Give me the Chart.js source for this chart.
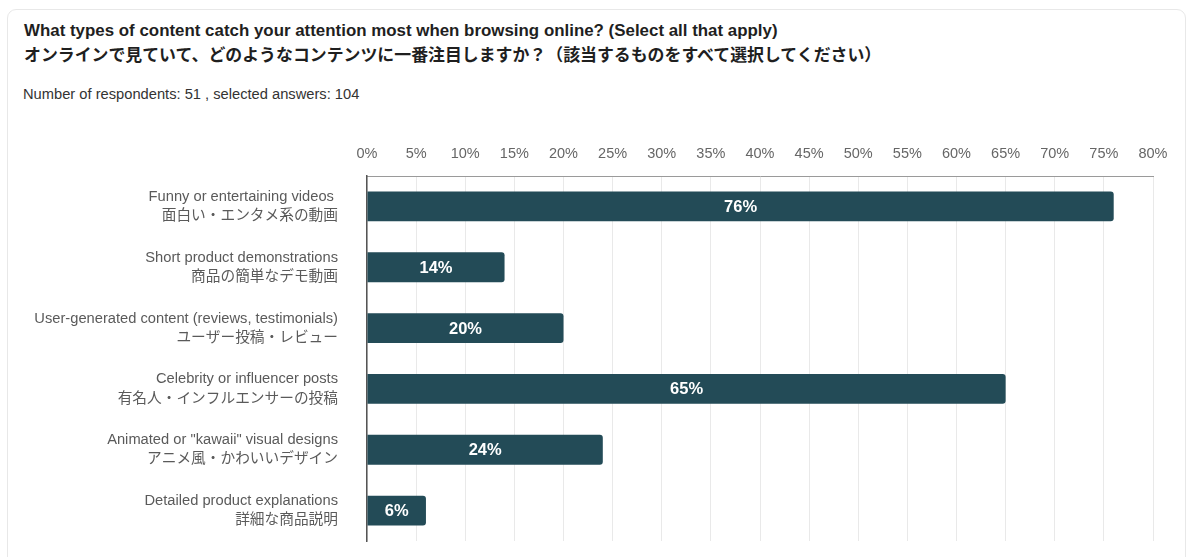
<!DOCTYPE html>
<html>
<head>
<meta charset="utf-8">
<script src="https://cdn.jsdelivr.net/npm/chart.js@4"></script>
<style>
  html, body { margin: 0; padding: 0; background: #fff; }
  body { width: 1188px; height: 557px; position: relative; overflow: hidden;
         font-family: 'Liberation Sans', Arial, 'Noto Sans CJK JP', sans-serif; }
  .card { position: absolute; left: 7px; top: 9px; width: 1179px; height: 600px;
          border: 1px solid #e8e8e8; border-radius: 9px; box-sizing: border-box; }
  .title { position: absolute; left: 24px; top: 18px; font-size: 16.9px; font-weight: bold;
           color: #1f1f1f; line-height: 25px; white-space: nowrap; }
  .sub { position: absolute; left: 23px; top: 86px; font-size: 14.7px; color: #333; white-space: nowrap; }
  #wrap { position: absolute; left: 0; top: 120px; width: 1188px; height: 437px; }
</style>
</head>
<body>
<div class="card"></div>
<div class="title">What types of content catch your attention most when browsing online? (Select all that apply)<br>オンラインで見ていて、どのようなコンテンツに一番注目しますか？（該当するものをすべて選択してください）</div>
<div class="sub">Number of respondents: 51 , selected answers: 104</div>
<div id="wrap"><canvas id="c"></canvas></div>
<script>
// Answer options (English / Japanese) and share of respondents, in percent
const labelsEn = [
  'Funny or entertaining videos ',
  'Short product demonstrations',
  'User-generated content (reviews, testimonials)',
  'Celebrity or influencer posts',
  'Animated or "kawaii" visual designs',
  'Detailed product explanations'
];
const labelsJa = [
  '面白い・エンタメ系の動画',
  '商品の簡単なデモ動画',
  'ユーザー投稿・レビュー',
  '有名人・インフルエンサーの投稿',
  'アニメ風・かわいいデザイン',
  '詳細な商品説明'
];
const shares = [76, 14, 20, 65, 24, 6];
const axisMax = 80;
const axisStep = 5;

const FONT = "'Liberation Sans', Arial, 'Noto Sans CJK JP', sans-serif";

// Writes the percentage in the middle of each bar
const barValueLabels = {
  id: 'barValueLabels',
  afterDatasetsDraw(chart) {
    const ctx = chart.ctx;
    const meta = chart.getDatasetMeta(0);
    const values = chart.data.datasets[0].data;
    ctx.save();
    ctx.fillStyle = '#ffffff';
    ctx.font = 'bold 16.5px ' + FONT;
    ctx.textAlign = 'center';
    ctx.textBaseline = 'middle';
    meta.data.forEach((bar, i) => {
      const cx = (bar.x + bar.base) / 2;
      ctx.fillText(values[i] + '%', cx, bar.y + 1);
    });
    ctx.restore();
  }
};

new Chart(document.getElementById('c'), {
  type: 'bar',
  data: {
    labels: labelsEn.map((en, i) => [en, labelsJa[i]]),
    datasets: [{
      data: shares,
      backgroundColor: '#234b57',
      borderRadius: { topRight: 3, bottomRight: 3, topLeft: 0, bottomLeft: 0 },
      borderSkipped: 'start',
      categoryPercentage: 1,
      barPercentage: 0.49
    }]
  },
  options: {
    indexAxis: 'y',
    responsive: true,
    maintainAspectRatio: false,
    animation: false,
    layout: { padding: { left: 0, right: 35, top: 0, bottom: 16 } },
    plugins: { legend: { display: false }, tooltip: { enabled: false } },
    scales: {
      x: {
        position: 'top',
        min: 0,
        max: axisMax,
        afterFit(scale) {
          scale.height = 56;
          scale.paddingLeft = 0;
          scale.paddingRight = 0;
        },
        ticks: {
          stepSize: axisStep,
          padding: 13,
          color: '#666',
          font: { family: FONT, size: 14.5 },
          callback: v => v + '%'
        },
        grid: { color: '#e9e9e9', lineWidth: 1, drawTicks: false },
        border: { display: true, color: '#9a9a9a', width: 1 }
      },
      y: {
        afterFit(scale) {
          scale.width = 367;
          scale.paddingTop = 0;
          scale.paddingBottom = 0;
        },
        ticks: {
          padding: 29,
          color: '#5a5a5a',
          font: { family: FONT, size: 14.7, lineHeight: 1.3 }
        },
        grid: { display: false, drawTicks: false },
        border: { display: true, color: '#555', width: 1.5 }
      }
    }
  },
  plugins: [barValueLabels]
});
</script>
</body>
</html>
